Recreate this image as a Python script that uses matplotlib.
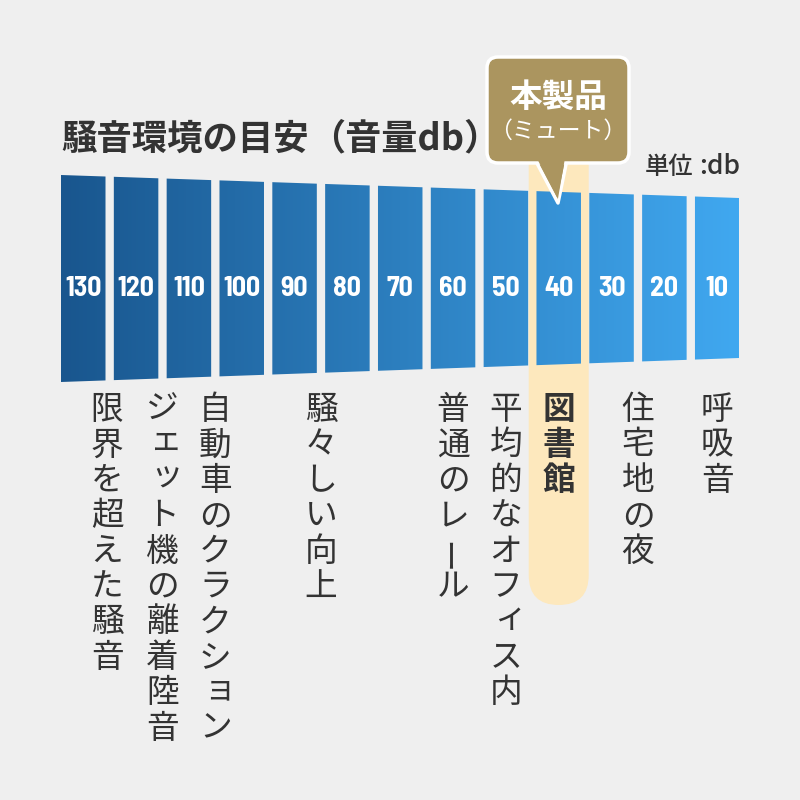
import numpy as np
import matplotlib.pyplot as plt
from matplotlib.patches import Polygon, FancyBboxPatch, PathPatch
from matplotlib.path import Path
from matplotlib.colors import to_rgb

plt.rcParams['font.family'] = ['Noto Sans CJK JP', 'DejaVu Sans']

# noise levels (db), left to right
levels = [130, 120, 110, 100, 90, 80, 70, 60, 50, 40, 30, 20, 10]
# environment labels and the bar position (index) they sit under
env_labels = ["限界を超えた騒音", "ジェット機の離着陸音", "自動車のクラクション",
              "騒々しい向上", "普通のレール", "平均的なオフィス内",
              "図書館", "住宅地の夜", "呼吸音"]
env_pos = [0.45, 1.5, 2.5, 4.5, 7, 8, 9, 10.5, 12]
product_level = 40

title_parts = ["騒音環境の目安", "（音量db）"]
unit_parts = ["単位", ":db"]
callout_main = "本製品"
callout_sub = "（ミュート）"

BG = "#efefef"
DARK = "#333333"
GOLD = "#ab955f"
BEIGE = "#fde8bd"
BLUE_L = "#19568e"
BLUE_R = "#40a8f0"
NUM_FONT = ['Barlow Semi Condensed', 'Roboto Condensed', 'Archivo Narrow', 'DejaVu Sans']

fig = plt.figure(figsize=(8, 8), dpi=100, facecolor=BG)
ax = fig.add_axes([0, 0, 1, 1])
ax.set_facecolor(BG)

# bar layout in pixels
x0, x1 = 61, 739
pitch = 52.83
bw = 44.5
top_l, top_r = 175, 198
bot_l, bot_r = 382, 358


def top(x):
    return top_l + (x - x0) * (top_r - top_l) / (x1 - x0)


def bot(x):
    return bot_l + (x - x0) * (bot_r - bot_l) / (x1 - x0)


def center(i):
    return x0 + bw / 2 + pitch * i


# highlight column behind the product bar
hi = levels.index(product_level)
hx = center(hi)
ax.add_patch(FancyBboxPatch((hx - 30, 110), 60, 605 - 110,
                            boxstyle="round,pad=0,rounding_size=30",
                            fc=BEIGE, ec="none", zorder=1))

# bars with a horizontal gradient
verts, codes = [], []
for i, v in enumerate(levels):
    xl = x0 + pitch * i
    xr = xl + bw
    pts = [(xl, top(xl)), (xr, top(xr)), (xr, bot(xr)), (xl, bot(xl)), (xl, top(xl))]
    verts += pts
    codes += [Path.MOVETO, Path.LINETO, Path.LINETO, Path.LINETO, Path.CLOSEPOLY]
clip = PathPatch(Path(verts, codes), fc="none", ec="none", transform=ax.transData)
ax.add_patch(clip)
cl, cr = np.array(to_rgb(BLUE_L)), np.array(to_rgb(BLUE_R))
t = np.linspace(0, 1, 256)[None, :, None]
grad = cl * (1 - t) + cr * t
im = ax.imshow(grad, extent=(x0, x1, 400, 170), aspect='auto', zorder=2,
               interpolation='bilinear')
im.set_clip_path(clip)

for i, v in enumerate(levels):
    ax.text(center(i), 288, str(v), color="white", fontsize=20,
            family=NUM_FONT, weight='bold',
            ha='center', va='center', zorder=3)

# vertical labels
small = set("ッェョィャュァ")
for lab, p in zip(env_labels, env_pos):
    cx = center(p)
    bold = lab == "図書館"
    for k, ch in enumerate(lab):
        y = 410 + 35.4 * k
        dx, dy, rot = 0, 0, 0
        if ch == "ー":
            rot = 90
        if ch in small:
            dx, dy = 4, -4
        ax.text(cx + dx, y + dy, ch, fontsize=23.5, color=DARK,
                weight='bold' if bold else 'normal', rotation=rot,
                ha='center', va='center', zorder=4)

# title (two pieces for the tight bracket spacing) and unit
ax.text(61, 139, title_parts[0], ha='left', fontsize=25.5, weight='bold',
        color=DARK, va='center', zorder=4)
ax.text(309, 139, title_parts[1], ha='left', fontsize=26, weight='bold',
        color=DARK, va='center', zorder=4)
ax.text(645, 167, unit_parts[0], ha='left', fontsize=17.5, weight='medium',
        color=DARK, va='center', zorder=4)
ax.text(740, 166, unit_parts[1], ha='right', fontsize=19, weight='medium',
        color=DARK, va='center', zorder=4)

# callout
ax.add_patch(Polygon([(530, 150), (569, 150), (558, 203)], closed=True,
                     fc=GOLD, ec="white", lw=2.5, joinstyle='round', zorder=5))
ax.add_patch(FancyBboxPatch((487, 57), 142, 106,
                            boxstyle="round,pad=0,rounding_size=11",
                            fc=GOLD, ec="white", lw=2.5, zorder=6))
ax.add_patch(Polygon([(532.6, 150), (566.4, 150), (557.9, 199)], closed=True,
                     fc=GOLD, ec="none", zorder=7))
ax.text(558, 97, callout_main, fontsize=23.5, weight='bold', color="white",
        ha='center', va='center', zorder=8)
ax.text(558, 131, callout_sub, fontsize=16.5, color="white",
        ha='center', va='center', zorder=8)

ax.set_xlim(0, 800)
ax.set_ylim(800, 0)
ax.axis('off')
fig.savefig("out.png", dpi=100, facecolor=BG)
